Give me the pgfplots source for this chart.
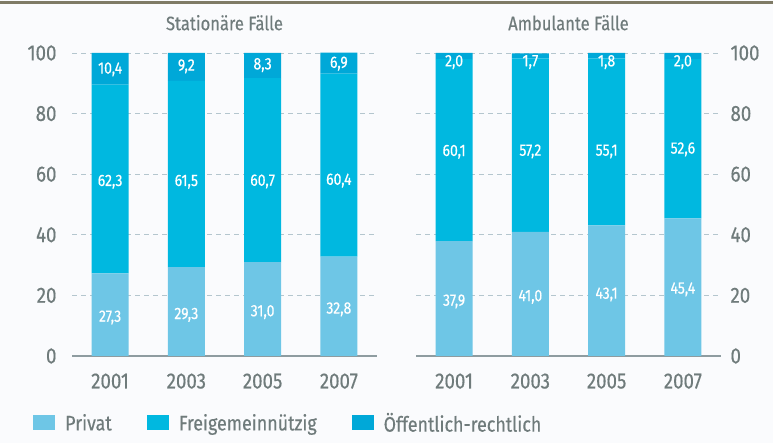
\documentclass[border=0pt]{standalone}
\usepackage{pgfplots}
\pgfplotsset{compat=1.18}
\usepackage{fontspec}
\setmainfont{Fira Sans}[FakeStretch=0.85, FakeBold=0.4]
\definecolor{priv}{HTML}{6EC6E6}
\definecolor{frei}{HTML}{00B8E0}
\definecolor{oeff}{HTML}{00A8D8}
\definecolor{txt}{HTML}{6F7B7B}
\definecolor{grd}{HTML}{B4C6CE}
\definecolor{base}{HTML}{8E9CA0}
\definecolor{topl}{HTML}{7F7B66}
\definecolor{bg}{HTML}{FAFBFD}

\pgfplotstableread{
x priv frei oeff
0 27.3 62.3 10.4
1 29.3 61.5 9.2
2 31.0 60.7 8.3
3 32.8 60.4 6.9
}\stat
\pgfplotstableread{
x priv frei oeff
0 37.9 60.1 2.0
1 41.0 57.2 1.7
2 43.1 55.1 1.8
3 45.4 52.6 2.0
}\amb
\pgfplotstableread{
x y lab
0 12.7 27,3
1 13.6 29,3
2 14.5 31,0
3 15.4 32,8
0 57.5 62,3
1 57.5 61,5
2 57.6 60,7
3 57.9 60,4
0 94.6 10,4
1 95.6 9,2
2 96.0 8,3
3 96.5 6,9
}\statlab
\pgfplotstableread{
x y lab
0 18.0 37,9
1 19.5 41,0
2 20.3 43,1
3 22.0 45,4
0 67.4 60,1
1 67.5 57,2
2 67.5 55,1
3 68.2 52,6
0 97.0 2,0
1 97.0 1,7
2 97.0 1,8
3 97.0 2,0
}\amblab

\pgfplotsset{
  panel/.style={
    scale only axis, width=305pt, height=303pt, anchor=south west,
    xmin=-0.5, xmax=3.5, ymin=0, ymax=100,
    xtick={0,1,2,3}, xticklabels={2001,2003,2005,2007},
    ytick={0,20,40,60,80,100},
    /pgf/number format/assume math mode=true,
    axis line style={draw=none}, tick style={draw=none},
    major tick length=0pt,
    ymajorgrids, grid style={grd, dash pattern=on 5pt off 4pt, line width=0.9pt},
    tick label style={font=\fontsize{22}{24}\selectfont, text=txt},
    xticklabel style={yshift=-14pt},
    title style={font=\fontsize{19.5}{22}\selectfont, text=txt, yshift=13pt},
    clip=false,
  },
  bars/.style={
    ybar stacked, bar width=37pt,
  },
  labs/.style={
    scale only axis, width=305pt, height=303pt, anchor=south west,
    xmin=-0.5, xmax=3.5, ymin=0, ymax=100, hide axis,
  },
  lab/.style={only marks, mark=none, nodes near coords, point meta=explicit symbolic,
    every node near coord/.style={anchor=center, text=white, font=\fontsize{16.5}{18}\selectfont}},
}

\begin{document}
\begin{tikzpicture}
\path[use as bounding box, fill=bg] (0pt,0pt) rectangle (773pt,443pt);
\draw[topl, line width=2.2pt] (0pt,440.5pt) -- (773pt,440.5pt);

\begin{axis}[panel, bars, at={(72pt,87pt)}, title={Stationäre Fälle},
  yticklabel style={xshift=-12pt},
  legend style={at={(axis description cs:0,0)}, anchor=west, xshift=-39pt, yshift=-67pt,
    draw=none, fill=none, inner sep=0pt, legend columns=3,
    font=\fontsize{21}{23}\selectfont, text=txt,
    /tikz/every even column/.append style={column sep=33pt}},
  legend image code/.code={\fill[#1] (0pt,-7.5pt) rectangle (22pt,7.5pt); \path (30pt,0pt);},
  legend cell align=left]
\addplot[fill=priv, draw=none] table[x=x, y=priv] {\stat};
\addplot[fill=frei, draw=none] table[x=x, y=frei] {\stat};
\addplot[fill=oeff, draw=none] table[x=x, y=oeff] {\stat};
\legend{Privat, Freigemeinnützig, Öffentlich-rechtlich}
\draw[base, line width=1.8pt] (axis cs:-0.5,0) -- (axis cs:3.5,0);
\end{axis}
\begin{axis}[labs, at={(72pt,87pt)}]
\addplot[lab] table[x=x, y=y, meta=lab] {\statlab};
\end{axis}

\begin{axis}[panel, bars, at={(416pt,87pt)}, title={Ambulante Fälle},
  yticklabel pos=right, yticklabel style={xshift=6pt}]
\addplot[fill=priv, draw=none] table[x=x, y=priv] {\amb};
\addplot[fill=frei, draw=none] table[x=x, y=frei] {\amb};
\addplot[fill=oeff, draw=none] table[x=x, y=oeff] {\amb};
\draw[base, line width=1.8pt] (axis cs:-0.5,0) -- (axis cs:3.5,0);
\end{axis}
\begin{axis}[labs, at={(416pt,87pt)}]
\addplot[lab] table[x=x, y=y, meta=lab] {\amblab};
\end{axis}
\end{tikzpicture}
\end{document}
